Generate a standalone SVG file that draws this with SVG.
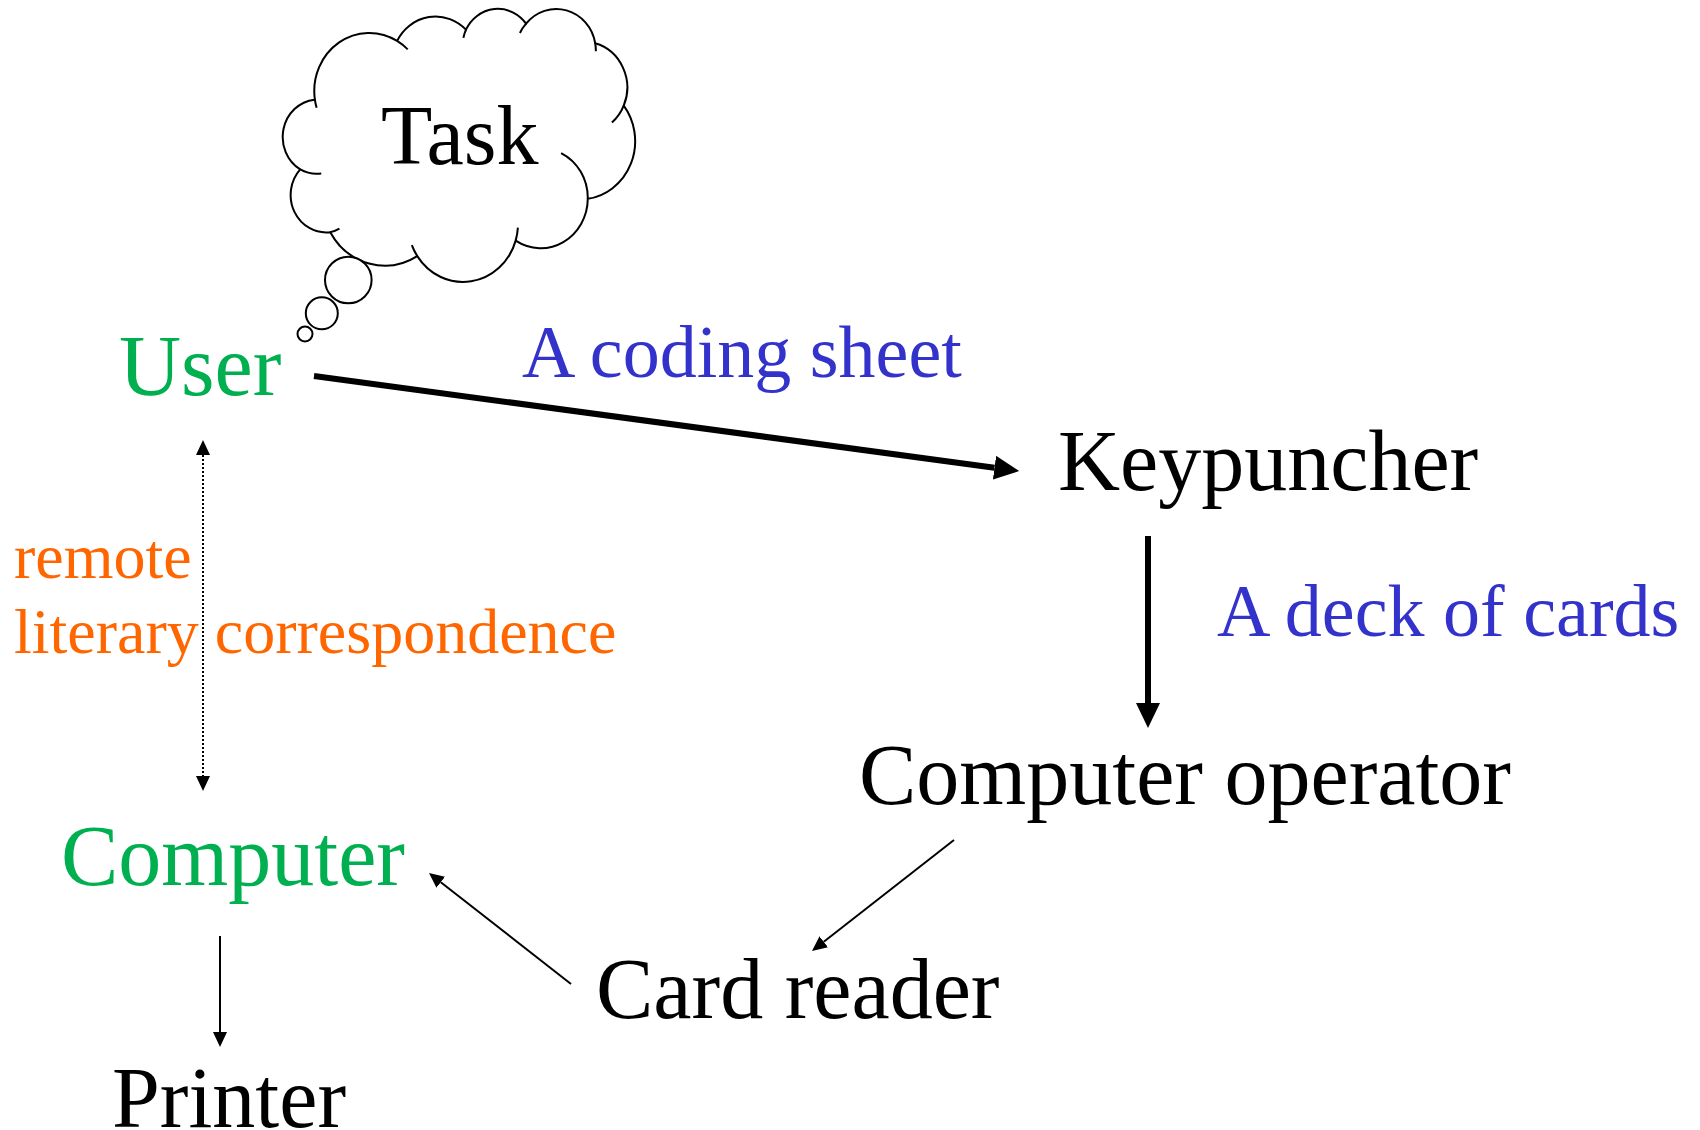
<svg xmlns="http://www.w3.org/2000/svg" width="1700" height="1130" viewBox="0 0 1700 1130">
<style>
text{font-family:"Liberation Serif","Times New Roman",serif}
.big{font-size:86px;fill:#000}
.green{fill:#00B050}
.blue{font-size:74px;fill:#3333CC}
.orange{font-size:64px;fill:#FF6600}
.thick{stroke:#000;stroke-width:6;fill:none}
.thin{stroke:#000;stroke-width:2;fill:none}
.dot{stroke:#000;stroke-width:2;stroke-dasharray:2 2;fill:none}
.cl{stroke:#000;stroke-width:2;fill:none;vector-effect:non-scaling-stroke}
</style>
<defs>
<marker id="ahThick" markerUnits="userSpaceOnUse" markerWidth="25" markerHeight="24" viewBox="0 0 25 24" refX="0" refY="12" orient="auto"><path d="M0,0 L25,12 L0,24 z" fill="#000"/></marker>
<marker id="ahThin" markerUnits="userSpaceOnUse" markerWidth="15" markerHeight="14" viewBox="0 0 15 14" refX="0" refY="7" orient="auto-start-reverse"><path d="M0,0 L15,7 L0,14 z" fill="#000"/></marker>
</defs>
<rect width="1700" height="1130" fill="#fff"/>
<g id="task">
<g transform="translate(283,8) scale(0.0081481,0.0063194)">
<path class="cl" fill="#fff" style="fill:#fff" d="M3900 14370 A6753 9190 0 0 1 14005 5202 A5333 7267 0 0 1 22456 3431 A4365 5945 0 0 1 29833 2480 A4857 6595 0 0 1 38318 5575 A5333 7273 0 0 1 41818 15459 A6775 9220 0 0 1 37404 30202 A5785 7867 0 0 1 28556 36812 A6752 9215 0 0 1 16480 39263 A7720 10543 0 0 1 5805 35470 A4360 5918 0 0 1 2114 25548 A4345 5945 0 0 1 3863 14504 Z"/>
<path class="cl" d="M4693 26177 A4345 5945 0 0 1 2114 25548 M6928 34899 A4360 5918 0 0 1 5805 35470 M16480 39263 A6752 9215 0 0 1 15812 37524 M28827 34751 A6752 9215 0 0 1 28556 36812 M34129 22954 A5785 7867 0 0 1 37404 30202 M41818 15459 A5333 7273 0 0 1 40371 18134 M38318 5575 A4857 6595 0 0 1 38395 6839 M29078 3952 A4857 6595 0 0 1 29833 2480 M22141 4720 A4365 5945 0 0 1 22456 3431 M14005 5202 A6753 9190 0 0 1 15305 6550 M4127 15789 A6753 9190 0 0 1 3900 14370"/>
</g>
<circle cx="348.3" cy="280" r="23.3" fill="#fff" stroke="#000" stroke-width="2"/>
<circle cx="321.8" cy="313.3" r="16" fill="#fff" stroke="#000" stroke-width="2"/>
<circle cx="305" cy="334" r="7.5" fill="#fff" stroke="#000" stroke-width="2"/>
<text class="big" x="381" y="164" style="font-size:84px">Task</text>
</g>
<g id="user"><text class="big green" x="119" y="395">User</text></g>
<g id="keypuncher"><text class="big" x="1058" y="490">Keypuncher</text></g>
<g id="operator"><text class="big" x="859" y="804">Computer operator</text></g>
<g id="computer"><text class="big green" x="61" y="885">Computer</text></g>
<g id="cardreader"><text class="big" x="596" y="1018">Card reader</text></g>
<g id="printer"><text class="big" x="112" y="1127">Printer</text></g>
<g id="connectors">
<line class="thick" x1="314" y1="376" x2="994.5" y2="467.7" marker-end="url(#ahThick)"/>
<line class="thick" x1="1148" y1="536" x2="1148" y2="703" marker-end="url(#ahThick)"/>
<line class="thin" x1="954" y1="840" x2="823.8" y2="941.8" marker-end="url(#ahThin)"/>
<line class="thin" x1="571" y1="984" x2="440.8" y2="882.2" marker-end="url(#ahThin)"/>
<line class="thin" x1="220" y1="936" x2="220" y2="1032" marker-end="url(#ahThin)"/>
<line class="dot" x1="203" y1="455" x2="203" y2="776" marker-start="url(#ahThin)" marker-end="url(#ahThin)"/>
<text class="blue" x="522" y="377">A coding sheet</text>
<text class="blue" x="1217" y="636">A deck of cards</text>
<text class="orange" x="14" y="578">remote</text>
<text class="orange" x="14" y="653">literary correspondence</text>
</g>
</svg>
